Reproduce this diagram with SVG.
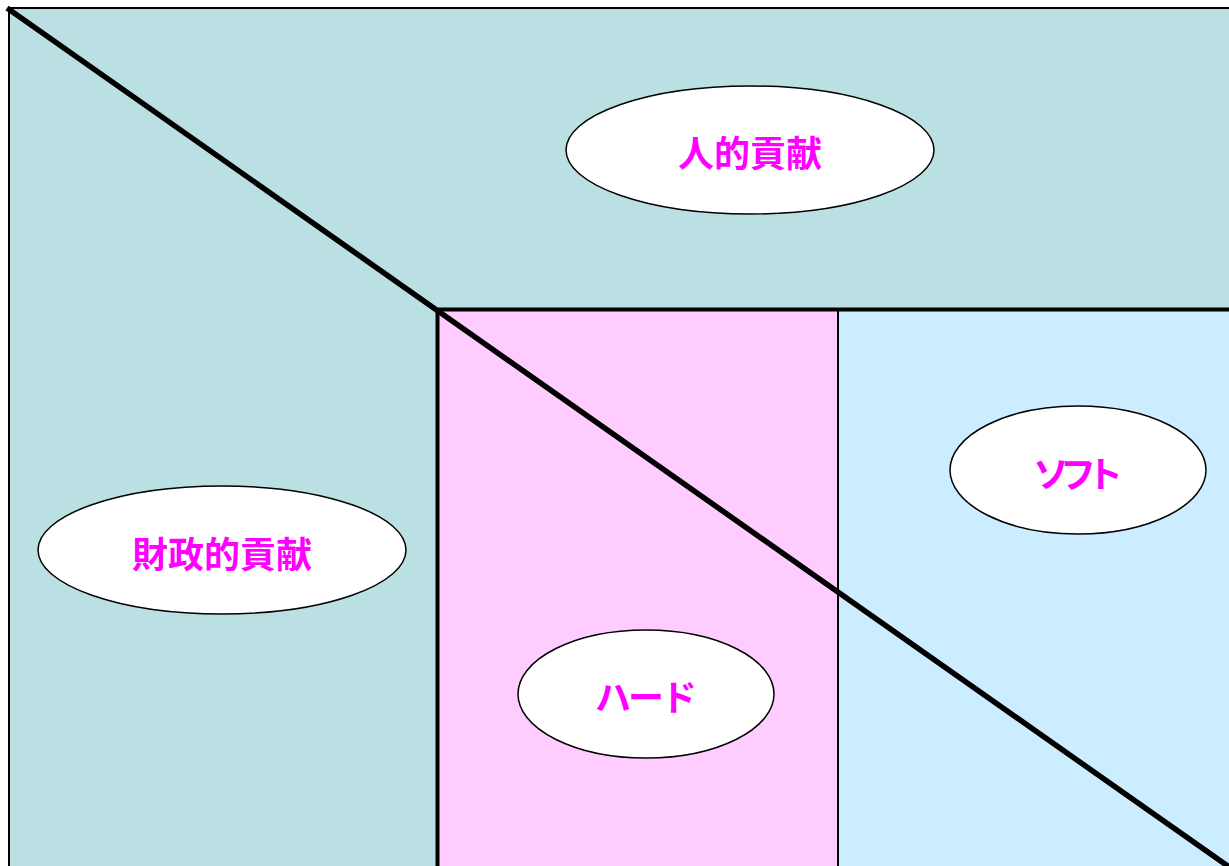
<svg xmlns="http://www.w3.org/2000/svg" width="1229" height="866" viewBox="0 0 1229 866">
<style>
.lbl{font-family:"Noto Sans CJK JP","Noto Sans CJK SC",sans-serif;font-weight:bold;font-size:36px;fill:#FF00FF;text-anchor:middle;dominant-baseline:central}
.ell{fill:#FFFFFF;stroke:#000000;stroke-width:1.5}
.thick{stroke:#000000;stroke-width:5.5;fill:none}
</style>
<rect x="0" y="0" width="1229" height="866" fill="#FFFFFF"/>
<g id="regions">
<rect x="9" y="8" width="1240" height="880" fill="#BBE0E3" stroke="#000000" stroke-width="2"/>
<rect x="438" y="310" width="400" height="556" fill="#FFCCFF"/>
<rect x="838" y="310" width="391" height="556" fill="#CCECFF"/>
</g>
<g id="connectors">
<line x1="838" y1="310" x2="838" y2="866" stroke="#000000" stroke-width="2"/>
<line x1="438" y1="309.5" x2="1229" y2="309.5" stroke="#000000" stroke-width="4"/>
<line x1="437.5" y1="309" x2="437.5" y2="866" stroke="#000000" stroke-width="4"/>
<line class="thick" x1="7" y1="8" x2="1232" y2="869"/>
</g>
<g id="node-jinteki">
<ellipse class="ell" cx="750" cy="150" rx="184" ry="64"/>
<text class="lbl" x="750" y="151">人的貢献</text>
</g>
<g id="node-zaisei">
<ellipse class="ell" cx="222" cy="550" rx="184" ry="64"/>
<text class="lbl" x="222" y="552">財政的貢献</text>
</g>
<g id="node-soft">
<ellipse class="ell" cx="1078" cy="470" rx="128" ry="64"/>
<text class="lbl" x="1078" y="472" textLength="90" lengthAdjust="spacing">ソフト</text>
</g>
<g id="node-hard">
<ellipse class="ell" cx="646" cy="694" rx="128" ry="64"/>
<text class="lbl" x="646" y="695" textLength="102" lengthAdjust="spacing">ハード</text>
</g>
</svg>
